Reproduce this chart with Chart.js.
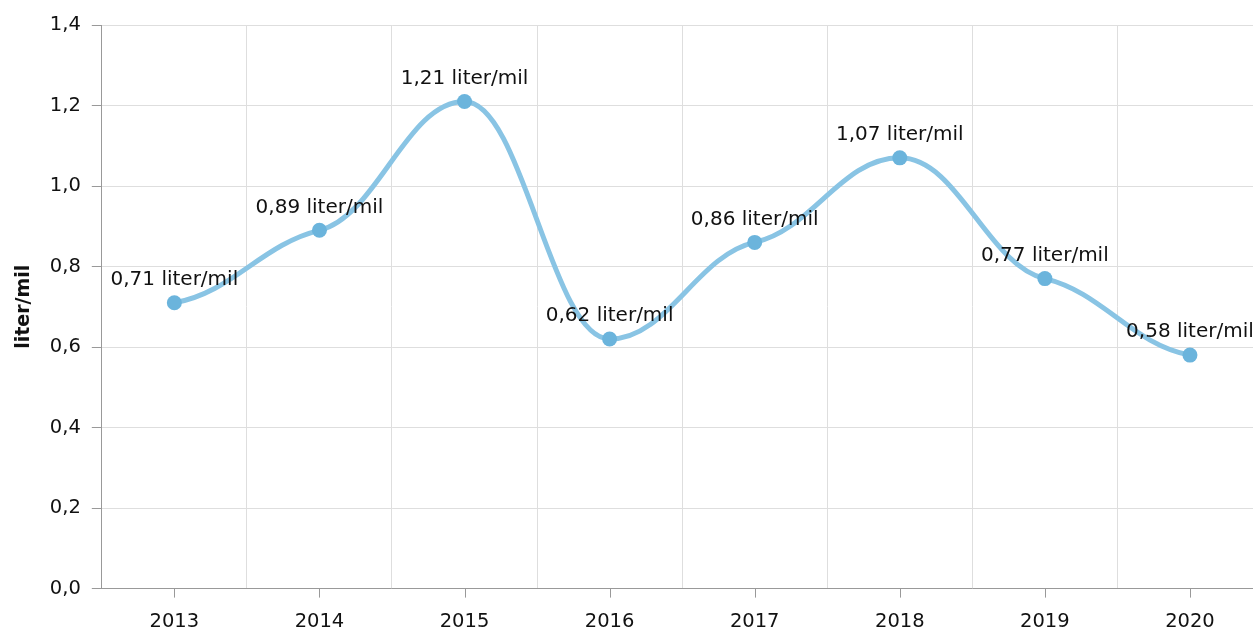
<!DOCTYPE html>
<html>
<head>
<meta charset="utf-8">
<script src="https://cdn.jsdelivr.net/npm/chart.js@4"></script>
<style>
  html, body { margin: 0; padding: 0; background: #fff; overflow: hidden; }
  #clip { width: 1253px; height: 630px; overflow: hidden; }
  #wrap { width: 1270px; height: 630px; }
</style>
</head>
<body>
<div id="clip"><div id="wrap"><canvas id="chart"></canvas></div></div>
<script>
const years = ['2013', '2014', '2015', '2016', '2017', '2018', '2019', '2020'];
const usage = [0.71, 0.89, 1.21, 0.62, 0.86, 1.07, 0.77, 0.58];
const unit = 'liter/mil';

const FONT = '"DejaVu Sans", Verdana, sans-serif';
const fmt = (v, d) => v.toFixed(d).replace('.', ',');

// the original curve flattens out at every point, so soften the tangents
const flatSpline = {
  id: 'flatSpline',
  beforeDatasetsDraw(chart) {
    const meta = chart.getDatasetMeta(0);
    const line = meta.dataset;
    line.updateControlPoints(chart.chartArea, 'x');
    const pts = meta.data;
    const k = 0.35;
    pts.forEach((p, i) => {
      const prev = pts[i - 1] || p;
      const next = pts[i + 1] || p;
      let m;
      if (i > 0 && i < pts.length - 1 && (p.y - prev.y) * (next.y - p.y) <= 0) {
        m = 0;
      } else {
        m = k * (next.y - prev.y) / (next.x - prev.x);
      }
      const dl = (p.x - prev.x) * 0.4;
      const dr = (next.x - p.x) * 0.4;
      p.cp1x = p.x - dl; p.cp1y = p.y - m * dl;
      p.cp2x = p.x + dr; p.cp2y = p.y + m * dr;
    });
  }
};

// value labels above each point
const pointLabels = {
  id: 'pointLabels',
  afterDatasetsDraw(chart) {
    const ctx = chart.ctx;
    const meta = chart.getDatasetMeta(0);
    ctx.save();
    ctx.font = '20px ' + FONT;
    ctx.fillStyle = '#111';
    ctx.textAlign = 'center';
    ctx.textBaseline = 'middle';
    meta.data.forEach((pt, i) => {
      ctx.fillText(fmt(usage[i], 2) + ' ' + unit, pt.x, pt.y - 23);
    });
    ctx.restore();
  }
};

// x tick marks sit at the category centres, grid lines between them
const centreTicks = {
  id: 'centreTicks',
  afterDraw(chart) {
    const x = chart.scales.x;
    const ctx = chart.ctx;
    ctx.save();
    ctx.strokeStyle = '#999';
    ctx.lineWidth = 1;
    x.ticks.forEach((t, i) => {
      const px = Math.round(x.getPixelForTick(i)) + 0.5;
      ctx.beginPath();
      ctx.moveTo(px, x.top);
      ctx.lineTo(px, x.top + 9);
      ctx.stroke();
    });
    ctx.restore();
  }
};

new Chart(document.getElementById('chart'), {
  type: 'line',
  data: {
    labels: years,
    datasets: [{
      data: usage,
      borderColor: '#89c4e4',
      borderWidth: 5,
      backgroundColor: '#6bb4dc',
      pointBackgroundColor: '#6bb4dc',
      pointBorderWidth: 0,
      pointRadius: 7.5,
      tension: 0.4,
      fill: false
    }]
  },
  options: {
    responsive: true,
    maintainAspectRatio: false,
    animation: false,
    layout: { padding: { top: 25, right: 0, left: 13, bottom: -17 } },
    plugins: {
      legend: { display: false },
      tooltip: { enabled: false }
    },
    scales: {
      x: {
        offset: true,
        grid: {
          offset: true,
          color: '#dedede',
          tickColor: 'rgba(0,0,0,0)',
          tickLength: 9
        },
        border: { color: '#999' },
        ticks: {
          color: '#111',
          padding: 13,
          font: { family: FONT, size: 19.5 }
        }
      },
      y: {
        min: 0,
        max: 1.4,
        grid: {
          color: '#dedede',
          tickColor: '#999',
          tickLength: 10
        },
        border: { color: '#999' },
        ticks: {
          stepSize: 0.2,
          color: '#111',
          padding: 11,
          font: { family: FONT, size: 19.5 },
          callback: v => fmt(v, 1)
        },
        title: {
          display: true,
          text: unit,
          color: '#111',
          padding: { top: 0, bottom: 3 },
          font: { family: FONT, size: 19, weight: 'bold' }
        }
      }
    }
  },
  plugins: [flatSpline, pointLabels, centreTicks]
});
</script>
</body>
</html>
